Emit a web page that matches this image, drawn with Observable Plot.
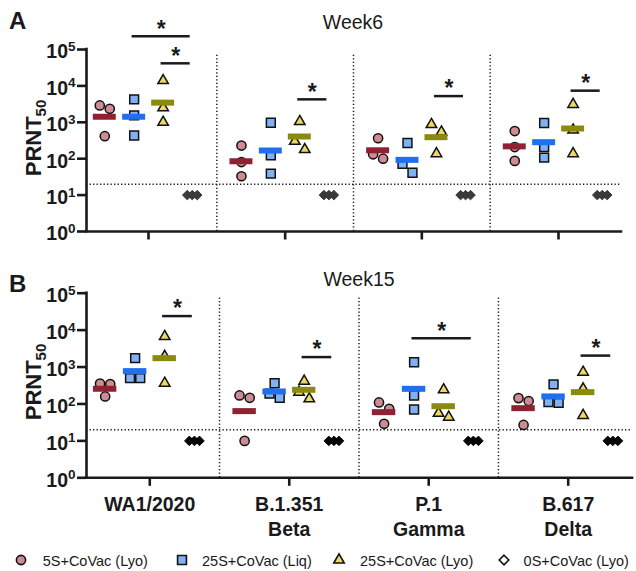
<!DOCTYPE html>
<html><head><meta charset="utf-8">
<script src="https://cdn.jsdelivr.net/npm/d3@7"></script>
<script src="https://cdn.jsdelivr.net/npm/@observablehq/plot@0.6"></script>
<style>
body{margin:0;background:#fff;}
#wrap{position:relative;width:636px;height:571px;}
#wrap svg{position:absolute;left:0;display:block;}
</style></head><body><div id="wrap"></div>
<script>
// ---------- data ----------
const categories = ["WA1/2020", "B.1.351\nBeta", "P.1\nGamma", "B.617\nDelta"];
const groups = ["5S+CoVac (Lyo)", "25S+CoVac (Liq)", "25S+CoVac (Lyo)", "0S+CoVac (Lyo)"];
const panelTitles = ["Week6", "Week15"];
const panelLetters = ["A", "B"];
const yTicks = [1, 10, 100, 1000, 10000, 100000];
const detectionLimit = 20;

// PRNT50 per animal: [category][animal]
const week6_5S_Lyo  = [[2900, 2350, 415], [230, 81, 33], [365, 100, 132], [575, 209, 87]];
const week6_25S_Liq = [[4250, 1550, 435], [975, 123, 39], [270, 72, 41], [955, 209, 107]];
const week6_25S_Lyo = [[14000, 2500, 1000], [1050, 300, 178], [870, 540, 138], [3100, 615, 138]];
const week6_0S_Lyo  = [[10, 10, 10], [10, 10, 10], [10, 10, 10], [10, 10, 10]];

const week15_5S_Lyo  = [[355, 347, 160], [170, 147, 10], [110, 74, 29], [144, 120, 27]];
const week15_25S_Liq = [[1740, 500, 500], [365, 190, 147], [1350, 170, 71], [338, 112, 107]];
const week15_25S_Lyo = [[6700, 1950, 365], [415, 209, 138], [242, 56, 44], [725, 257, 49]];
const week15_0S_Lyo  = [[10, 10, 10], [10, 10, 10], [10, 10, 10], [10, 10, 10]];

// geometric mean bars: [category]
const week6_gmt_5S_Lyo  = [1420, 85, 170, 218];
const week6_gmt_25S_Liq = [1420, 168, 93, 284];
const week6_gmt_25S_Lyo = [3470, 407, 390, 675];
const week6_gmt_0S_Lyo  = [10, 10, 10, 10];
const week15_gmt_5S_Lyo  = [258, 64, 60, 77];
const week15_gmt_25S_Liq = [775, 218, 257, 160];
const week15_gmt_25S_Lyo = [1740, 242, 87, 209];
const week15_gmt_0S_Lyo  = [10, 10, 10, 10];

// significance brackets: [category, fromGroup, toGroup, height]
const week6_sig  = [[0, 1, 3, 232000], [0, 2, 3, 41700], [1, 2, 3, 4270], [2, 2, 3, 5250], [3, 2, 3, 7400]];
const week15_sig = [[0, 2, 3, 24000], [1, 2, 3, 1860], [2, 1, 3, 6030], [3, 2, 3, 2040]];

const panelValues = [
  [week6_5S_Lyo, week6_25S_Liq, week6_25S_Lyo, week6_0S_Lyo],
  [week15_5S_Lyo, week15_25S_Liq, week15_25S_Lyo, week15_0S_Lyo]
];
const panelGmt = [
  [week6_gmt_5S_Lyo, week6_gmt_25S_Liq, week6_gmt_25S_Lyo, week6_gmt_0S_Lyo],
  [week15_gmt_5S_Lyo, week15_gmt_25S_Liq, week15_gmt_25S_Lyo, week15_gmt_0S_Lyo]
];
const panelSig = [week6_sig, week15_sig];

// ---------- style ----------
const FONT = "Liberation Sans, Arial, Helvetica, sans-serif";
const INK = "#1a1a1a";
const symbols = ["circle", "square", "triangle", "diamond2"];
const fills = ["#cf8b93", "#80b1f3", "#ecd863", null];
const radii = [4.6, 5.0, 3.9, 4.3];
const barColors = ["#8e2233", "#1f6ff0", "#8a8a0e", null];
const diamondColor = ["#3a3a3a", "#050505"];
const groupOffset = [-0.32, -0.105, 0.107, 0.32];
const JIT = 0.0365;
const xDomain = [-0.4537, 3.461];

function jitter(vals) {
  const L = vals.map(v => Math.log10(v));
  const order = vals.map((_, i) => i).sort((a, b) => L[b] - L[a]);
  const clusters = [[order[0]]];
  for (let k = 1; k < order.length; k++) {
    const last = clusters[clusters.length - 1];
    if (L[last[last.length - 1]] - L[order[k]] < 0.25) last.push(order[k]);
    else clusters.push([order[k]]);
  }
  const out = vals.map(() => 0);
  for (const c of clusters) {
    if (c.length === 2) { out[c[0]] = -1; out[c[1]] = 1; }
    else if (c.length === 3) { out[c[0]] = -1; out[c[1]] = 0; out[c[2]] = 1; }
  }
  return out;
}

const layouts = [
  {top: 0, height: 245, mt: 49, mb: 14, mr: 15, titleX: 353, titleY: 29, letterY: 29, labelY: 138},
  {top: 245, height: 326, mt: 47.7, mb: 93.7, mr: 4, titleX: 359, titleY: 40.5, letterY: 47, labelY: 137}
];

const wrap = document.getElementById("wrap");

function drawPanel(p) {
  const lay = layouts[p];
  const pts = [], bars = [];
  for (let g = 0; g < 4; g++) {
    panelValues[p][g].forEach((vals, c) => {
      const j = jitter(vals);
      vals.forEach((v, k) => pts.push({g, c, v, x: c + groupOffset[g] + j[k] * JIT}));
      const half = g === 3 ? 0.05 : 0.084;
      bars.push({g, c, v: panelGmt[p][g][c], x1: c + groupOffset[g] - half, x2: c + groupOffset[g] + half});
    });
  }
  const sig = panelSig[p].map(([c, a, b, h]) => ({
    x1: c + groupOffset[a] - 0.015, x2: c + groupOffset[b] - 0.015,
    xm: c + (groupOffset[a] + groupOffset[b]) / 2 - 0.015, y: h
  }));

  const marks = [
    Plot.ruleX([0.5, 1.5, 2.5], {y1: 1, y2: 74000, stroke: INK, strokeWidth: 1.5, strokeDasharray: "1.3,2.2"}),
    Plot.ruleY([detectionLimit], {stroke: INK, strokeWidth: 1.5, strokeDasharray: "1.3,2.2"})
  ];
  for (let g = 0; g < 3; g++) {
    marks.push(Plot.dot(pts.filter(d => d.g === g), {x: "x", y: "v", symbol: () => symbols[g], r: radii[g],
      fill: fills[g], stroke: "#111", strokeWidth: 1.5}));
  }
  for (let g = 0; g < 3; g++) {
    marks.push(Plot.ruleY(bars.filter(d => d.g === g), {y: "v", x1: "x1", x2: "x2", stroke: barColors[g], strokeWidth: 6}));
  }
  marks.push(Plot.ruleY(bars.filter(d => d.g === 3), {y: "v", x1: "x1", x2: "x2", stroke: diamondColor[p], strokeWidth: 6}));
  marks.push(Plot.dot(pts.filter(d => d.g === 3), {x: "x", y: "v", symbol: "diamond2", r: radii[3],
    fill: diamondColor[p], stroke: diamondColor[p], strokeWidth: 1}));
  marks.push(Plot.ruleY(sig, {y: "y", x1: "x1", x2: "x2", stroke: INK, strokeWidth: 2.5}));
  marks.push(Plot.text(sig, {x: "xm", y: "y", text: () => "*", fontSize: 23, fontWeight: "bold", fill: INK, dy: -7}));
  marks.push(Plot.axisY({ticks: yTicks, tickFormat: d => String(Math.round(Math.log10(d))), tickSize: 9,
    tickPadding: 2, strokeWidth: 2.6, label: null}));
  marks.push(Plot.axisX({ticks: [0, 1, 2, 3], tickFormat: p === 1 ? (i => categories[i]) : (() => ""),
    tickSize: 8.5, tickPadding: 7, strokeWidth: 2.6, label: null, lineHeight: 1.28}));
  marks.push(Plot.ruleY([1], {stroke: INK, strokeWidth: 2.6, strokeLinecap: "square"}));
  marks.push(Plot.ruleX([xDomain[0]], {y1: 1, y2: 100000, stroke: INK, strokeWidth: 2.6, strokeLinecap: "square"}));

  const svg = Plot.plot({
    width: 636, height: lay.height,
    marginLeft: 86, marginRight: lay.mr, marginTop: lay.mt, marginBottom: lay.mb,
    style: {fontFamily: FONT, fontSize: "19.5px", fontWeight: "bold", color: INK, background: "transparent"},
    x: {domain: xDomain},
    y: {type: "log", domain: [1, 100000]},
    marks
  });
  svg.style.top = lay.top + "px";
  wrap.appendChild(svg);

  const s = d3.select(svg);
  // superscript exponents on y tick labels
  s.selectAll('g[aria-label="y-axis tick label"] text').each(function () {
    const e = this.textContent;
    const t = d3.select(this);
    t.text("10").attr("y", "0.46em");
    t.append("tspan").attr("dy", "-0.55em").attr("font-size", "13.5px").text(e);
  });
  // y axis title PRNT50
  const lab = s.append("text").attr("transform", `translate(41,${lay.labelY}) rotate(-90)`)
    .attr("text-anchor", "middle").attr("font-size", 22).attr("font-weight", "bold").attr("fill", INK)
    .attr("font-family", FONT);
  lab.append("tspan").text("PRNT");
  lab.append("tspan").attr("font-size", 15).attr("dy", "0.3em").text("50");
  // panel title and letter
  s.append("text").attr("x", lay.titleX).attr("y", lay.titleY).attr("text-anchor", "middle")
    .attr("font-size", 19.5).attr("font-weight", "normal").attr("fill", INK).attr("font-family", FONT)
    .text(panelTitles[p]);
  s.append("text").attr("x", 9).attr("y", lay.letterY).attr("text-anchor", "start").attr("font-size", 24)
    .attr("font-weight", "bold").attr("fill", INK).attr("font-family", FONT).text(panelLetters[p]);

  if (p === 1) {
    // legend
    const ly = 560 - lay.top;
    const symX = [21, 182, 339, 504];
    const txtX = [42.7, 202, 360, 523.6];
    const lg = s.append("g").attr("font-family", FONT).attr("font-size", "14.5px").attr("font-weight", "normal")
      .attr("text-anchor", "start");
    groups.forEach((name, g) => {
      const sym = d3.symbol().type([d3.symbolCircle, d3.symbolSquare, d3.symbolTriangle, d3.symbolDiamond2][g])
        .size(Math.PI * radii[g] * radii[g]);
      lg.append("path").attr("d", sym()).attr("transform", `translate(${symX[g]},${ly})`)
        .attr("fill", g === 3 ? "#fff" : fills[g]).attr("stroke", "#111").attr("stroke-width", 1.6);
      lg.append("text").attr("x", txtX[g]).attr("y", ly + 5.5).attr("text-anchor", "start").attr("fill", INK).text(name);
    });
  }
}
drawPanel(0);
drawPanel(1);
</script></body></html>
